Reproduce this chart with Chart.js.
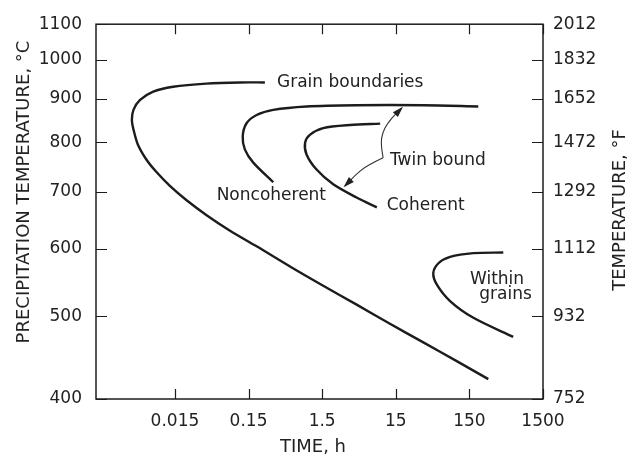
<!DOCTYPE html>
<html>
<head>
<meta charset="utf-8">
<script src="https://cdn.jsdelivr.net/npm/chart.js@4"></script>
<style>
  html, body { margin: 0; padding: 0; background: #fff; }
  canvas { display: block; }
</style>
</head>
<body>
<canvas id="chart" width="637" height="457"></canvas>
<script>
// axis ticks
var timeTicks = [0.015, 0.15, 1.5, 15, 150, 1500];
var timeTickLabels = ['0.015', '0.15', '1.5', '15', '150', '1500'];
var tempTicks = [400, 500, 600, 700, 800, 900, 1000, 1100];
var tempTicksF = [752, 932, 1112, 1292, 1472, 1652, 1832, 2012];

// C-curves (time in h, temperature in C)
var grainTime = [0.25, 0.115, 0.040, 0.0142, 0.0076, 0.0050, 0.0041, 0.0039, 0.0041, 0.0047, 0.0061, 0.0083, 0.0128, 0.0216, 0.0404, 0.084, 0.193, 0.548, 1.55, 4.41, 12.5, 35.5, 101, 271];
var grainTemp = [940, 940, 937, 929, 917, 896, 873, 850, 828, 795, 764, 739, 711, 684, 657, 630, 604, 572, 543, 516, 490, 466, 443, 422];

var noncohTime = [198, 35.5, 4.4, 0.92, 0.325, 0.193, 0.141, 0.125, 0.134, 0.174, 0.325];
var noncohTemp = [881, 884, 884, 881, 873, 861, 842, 813, 784, 757, 718];

var cohTime = [9.2, 3.6, 1.55, 1.02, 0.88, 0.92, 1.26, 2.12, 4.4, 8.3];
var cohTemp = [841, 838, 831, 816, 799, 774, 743, 714, 689, 671];

var withinTime = [433, 170, 82, 57, 48.5, 54, 82, 170, 590];
var withinTemp = [594, 593, 587, 577, 562, 545, 521, 498, 473];

// leader lines from the "Twin bound" label
var arrowUpTime = [10.1, 9.65, 9.65, 10.7, 13.2, 18.0];
var arrowUpTemp = [767, 788, 809, 831, 853, 877];
var arrowDownTime = [10.1, 7.4, 4.9, 3.06];
var arrowDownTemp = [767, 757, 740, 711];

// curve labels: text, time, temperature (left-middle anchor)
var labelText = ['Grain boundaries', 'Noncoherent', 'Twin bound', 'Coherent', 'Within', 'grains'];
var labelTime = [0.365, 0.0553, 12.5, 11.3, 153, 204];
var labelTemp = [940, 693, 762, 674, 552, 530];

var ink = '#1c1c1c';

function points(xs, ys) {
  return xs.map(function (x, i) { return { x: x, y: ys[i] }; });
}

function curve(xs, ys) {
  return {
    data: points(xs, ys),
    borderColor: ink,
    borderWidth: 2.4,
    pointRadius: 0,
    tension: 0.3,
    fill: false
  };
}

function leader(xs, ys) {
  return {
    data: points(xs, ys),
    borderColor: '#333',
    borderWidth: 1.1,
    pointRadius: 0,
    tension: 0.4,
    fill: false,
    arrow: true
  };
}

function setTicks(values) {
  return function (scale) {
    scale.ticks = values.map(function (v) { return { value: v }; });
  };
}

var decor = {
  id: 'decor',
  afterDatasetsDraw: function (chart) {
    var ctx = chart.ctx;
    var area = chart.chartArea;
    var xs = chart.scales.x;
    var ys = chart.scales.y;
    ctx.save();

    // frame
    ctx.strokeStyle = ink;
    ctx.lineWidth = 1.5;
    ctx.strokeRect(area.left, area.top, area.right - area.left, area.bottom - area.top);

    // inward ticks on all four sides
    ctx.lineWidth = 1.2;
    ctx.beginPath();
    timeTicks.forEach(function (v) {
      var px = Math.round(xs.getPixelForValue(v)) + 0.5;
      ctx.moveTo(px, area.bottom); ctx.lineTo(px, area.bottom - 10);
      ctx.moveTo(px, area.top); ctx.lineTo(px, area.top + 10);
    });
    tempTicks.forEach(function (v) {
      var py = Math.round(ys.getPixelForValue(v)) + 0.5;
      ctx.moveTo(area.left, py); ctx.lineTo(area.left + 11, py);
      ctx.moveTo(area.right, py); ctx.lineTo(area.right - 11, py);
    });
    ctx.stroke();

    // arrowheads at the end of the leader lines
    chart.data.datasets.forEach(function (ds, i) {
      if (!ds.arrow) return;
      var meta = chart.getDatasetMeta(i).data;
      var a = meta[meta.length - 2], b = meta[meta.length - 1];
      var ang = Math.atan2(b.y - a.y, b.x - a.x);
      ctx.fillStyle = '#222';
      ctx.beginPath();
      ctx.moveTo(b.x + 2 * Math.cos(ang), b.y + 2 * Math.sin(ang));
      ctx.lineTo(b.x - 9 * Math.cos(ang) + 3.5 * Math.sin(ang), b.y - 9 * Math.sin(ang) - 3.5 * Math.cos(ang));
      ctx.lineTo(b.x - 9 * Math.cos(ang) - 3.5 * Math.sin(ang), b.y - 9 * Math.sin(ang) + 3.5 * Math.cos(ang));
      ctx.closePath();
      ctx.fill();
    });

    // curve labels
    ctx.fillStyle = '#222';
    ctx.font = '17px "DejaVu Sans"';
    ctx.textAlign = 'left';
    ctx.textBaseline = 'middle';
    labelText.forEach(function (t, i) {
      ctx.fillText(t, xs.getPixelForValue(labelTime[i]), ys.getPixelForValue(labelTemp[i]));
    });

    // axis titles
    ctx.font = '18px "DejaVu Sans"';
    ctx.textAlign = 'center';
    ctx.fillText('TIME, h', 313, 447);
    ctx.save();
    ctx.translate(24, 192);
    ctx.rotate(-Math.PI / 2);
    ctx.fillText('PRECIPITATION TEMPERATURE, \u00B0C', 0, 0);
    ctx.restore();
    ctx.save();
    ctx.translate(620, 210);
    ctx.rotate(-Math.PI / 2);
    ctx.fillText('TEMPERATURE, \u00B0F', 0, 0);
    ctx.restore();

    ctx.restore();
  }
};

var tickFont = { family: 'DejaVu Sans', size: 17 };

new Chart(document.getElementById('chart'), {
  type: 'line',
  data: {
    datasets: [
      curve(grainTime, grainTemp),
      curve(noncohTime, noncohTemp),
      curve(cohTime, cohTemp),
      curve(withinTime, withinTemp),
      leader(arrowUpTime, arrowUpTemp),
      leader(arrowDownTime, arrowDownTemp)
    ]
  },
  options: {
    responsive: false,
    animation: false,
    devicePixelRatio: 1,
    layout: { padding: { top: 20, left: 0, right: 0, bottom: 0 } },
    plugins: { legend: { display: false }, tooltip: { enabled: false } },
    scales: {
      x: {
        type: 'logarithmic',
        position: 'bottom',
        min: 0.00127,
        max: 1500,
        afterBuildTicks: setTicks(timeTicks),
        afterFit: function (scale) { scale.height = 58; },
        grid: { display: false, drawTicks: false },
        border: { display: false },
        ticks: {
          color: '#222',
          font: tickFont,
          padding: 12,
          maxRotation: 0,
          autoSkip: false,
          callback: function (v) {
            var i = timeTicks.indexOf(v);
            return i >= 0 ? timeTickLabels[i] : '';
          }
        }
      },
      y: {
        type: 'logarithmic',
        position: 'left',
        min: 400,
        max: 1100,
        afterBuildTicks: setTicks(tempTicks),
        afterFit: function (scale) { scale.width = 96; },
        grid: { display: false, drawTicks: false },
        border: { display: false },
        ticks: {
          color: '#222',
          font: tickFont,
          padding: 14,
          autoSkip: false,
          callback: function (v) { return String(v); }
        }
      },
      y2: {
        type: 'logarithmic',
        position: 'right',
        min: 400,
        max: 1100,
        afterBuildTicks: setTicks(tempTicks),
        afterFit: function (scale) { scale.width = 94; },
        grid: { display: false, drawTicks: false },
        border: { display: false },
        ticks: {
          color: '#222',
          font: tickFont,
          padding: 10,
          autoSkip: false,
          callback: function (v) {
            var i = tempTicks.indexOf(v);
            return i >= 0 ? String(tempTicksF[i]) : '';
          }
        }
      }
    }
  },
  plugins: [decor]
});
</script>
</body>
</html>
